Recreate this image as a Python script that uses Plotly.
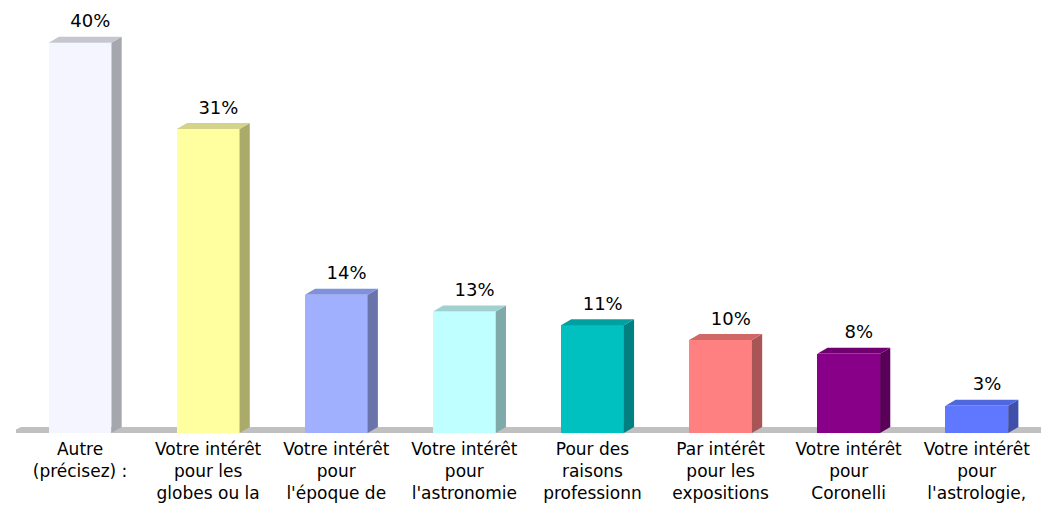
import plotly.graph_objects as go

labels = [
    "Autre<br>(précisez) :",
    "Votre intérêt<br>pour les<br>globes ou la",
    "Votre intérêt<br>pour<br>l'époque de",
    "Votre intérêt<br>pour<br>l'astronomie",
    "Pour des<br>raisons<br>professionn",
    "Par intérêt<br>pour les<br>expositions",
    "Votre intérêt<br>pour<br>Coronelli",
    "Votre intérêt<br>pour<br>l'astrologie,",
]
values = [40.0, 31.2, 14.3, 12.6, 11.2, 9.7, 8.3, 3.0]

front_colors = ["#F5F5FF", "#FFFF9F", "#A0B0FF", "#C0FFFF", "#00C0C0", "#FF8080", "#880088", "#6078FF"]
side_colors = ["#A6A6AE", "#AAAA6A", "#6A74AA", "#80AAAA", "#008080", "#AA5555", "#5A005A", "#4050AA"]
top_colors = ["#C6C6D0", "#D3D38A", "#8090DD", "#A0D0D0", "#00A0A0", "#D06868", "#700070", "#5068DD"]

bar_w = 0.49
dx = 0.08
dy = 0.61
y_min, y_max = 0.214, 43.54
x_max = 7.564

fig = go.Figure()

# floor
fig.add_shape(
    type="path",
    path=f"M -0.56 {y_min} L {x_max} {y_min} L {x_max} {y_min + dy} L -0.46 {y_min + dy} Z",
    fillcolor="#C0C0C0", line=dict(width=0), layer="below"
)

xs = list(range(len(values)))

fig.add_trace(go.Bar(
    x=xs, y=values, width=bar_w,
    marker=dict(color=front_colors, line=dict(width=0)),
    hoverinfo="skip", showlegend=False
))

for i, v in enumerate(values):
    r = i + bar_w / 2
    l = i - bar_w / 2
    fig.add_trace(go.Scatter(
        x=[r, r + dx, r + dx, r, r], y=[y_min, y_min + dy, v + dy, v, y_min],
        fill="toself", fillcolor=side_colors[i], mode="lines",
        line=dict(width=0), hoverinfo="skip", showlegend=False
    ))
    fig.add_trace(go.Scatter(
        x=[l, l + dx, r + dx, r, l], y=[v, v + dy, v + dy, v, v],
        fill="toself", fillcolor=top_colors[i], mode="lines",
        line=dict(width=0), hoverinfo="skip", showlegend=False
    ))

fig.add_trace(go.Scatter(
    x=[i + 0.08 for i in xs], y=[v + dy + 0.5 for v in values],
    mode="text", text=[f"{v:.0f}%" for v in values],
    textposition="top center",
    textfont=dict(family="DejaVu Sans", size=18, color="#000000"),
    hoverinfo="skip", showlegend=False
))

fig.update_layout(
    width=1041, height=499,
    margin=dict(l=8, r=0, t=0, b=74),
    plot_bgcolor="white", paper_bgcolor="white",
    bargap=0,
    font=dict(family="DejaVu Sans", size=17, color="#000000"),
)
fig.update_xaxes(
    range=[-0.5, x_max], tickvals=xs, ticktext=labels,
    showgrid=False, zeroline=False, showline=False, ticks="",
    tickangle=0, ticklabelstandoff=4
)
fig.update_yaxes(
    range=[y_min, y_max], visible=False, showgrid=False, zeroline=False
)

fig.write_html("out.html")
